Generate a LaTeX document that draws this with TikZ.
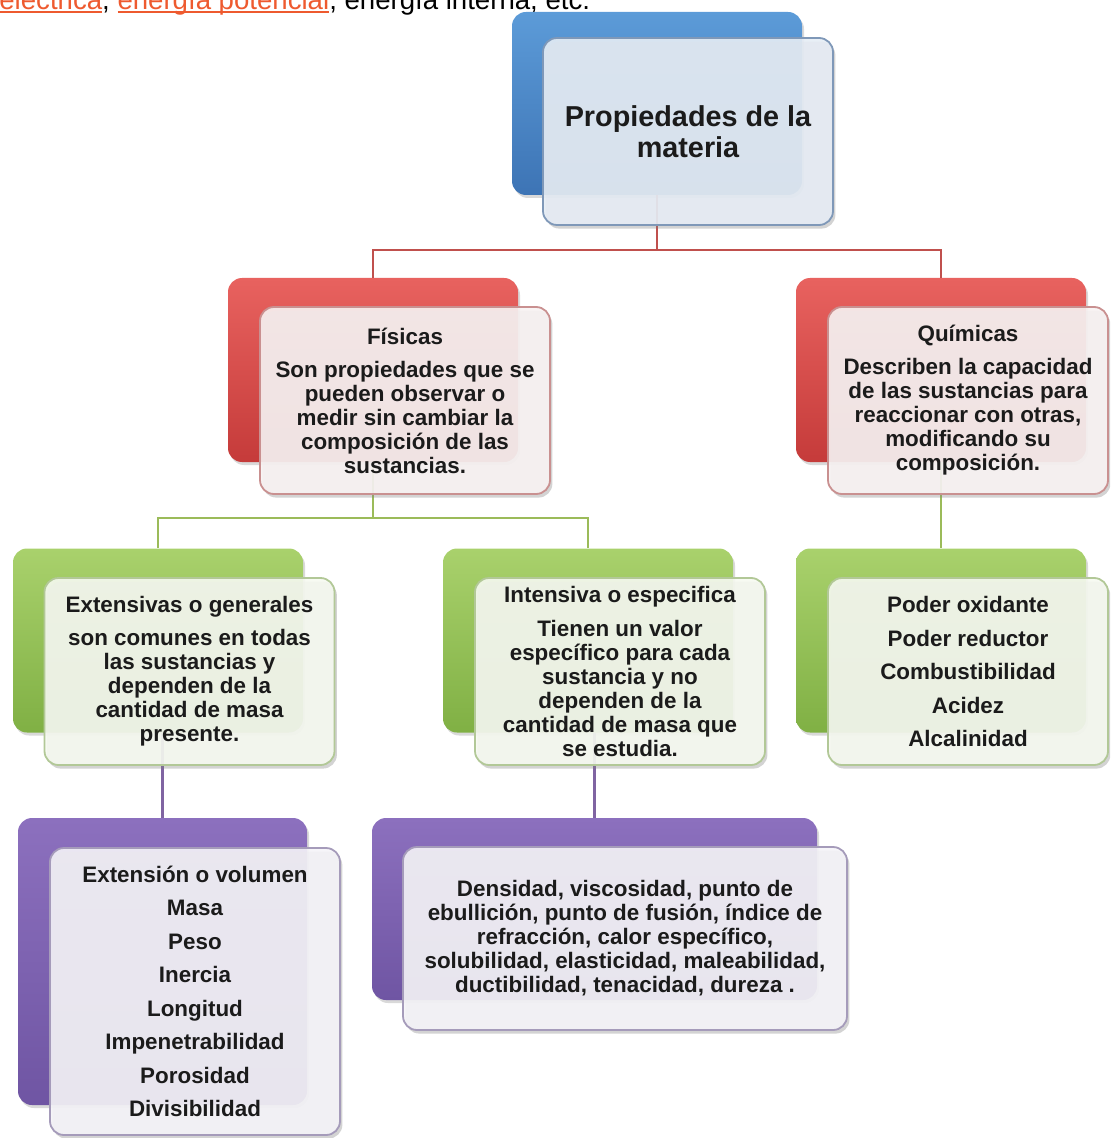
\documentclass[tikz,border=0pt]{standalone}
\usepackage{fontspec}
\setmainfont{Liberation Sans}
\usetikzlibrary{shadows}

\definecolor{blueTop}{HTML}{5C9BD8}
\definecolor{blueBot}{HTML}{3D74B5}
\definecolor{redTop}{HTML}{E8625F}
\definecolor{redBot}{HTML}{C53B3A}
\definecolor{greenTop}{HTML}{A9D16C}
\definecolor{greenBot}{HTML}{80B044}
\definecolor{purpleTop}{HTML}{8C70BE}
\definecolor{purpleBot}{HTML}{6F55A3}
\definecolor{blueFill}{HTML}{E6EDF5}
\definecolor{redFill}{HTML}{F8F3F3}
\definecolor{greenFill}{HTML}{F6F9F1}
\definecolor{purpleFill}{HTML}{F5F4F8}
\definecolor{blueEdge}{HTML}{7F98B8}
\definecolor{redEdge}{HTML}{C99090}
\definecolor{greenEdge}{HTML}{B2C897}
\definecolor{purpleEdge}{HTML}{A59BBA}
\definecolor{redLine}{HTML}{C0504D}
\definecolor{greenLine}{HTML}{9BBB59}
\definecolor{purpleLine}{HTML}{8064A2}
\definecolor{textcol}{HTML}{1B1B1B}
\definecolor{linkred}{HTML}{EE5A2F}

\newcommand\lnk[1]{\textcolor{linkred}{\setbox0=\hbox{#1}\rlap{\rule[-1.8pt]{\wd0}{1pt}}\box0}}

\tikzset{
  backbox/.style={rounded corners=7pt, minimum width=145pt, minimum height=92pt, inner sep=0pt,
    drop shadow={shadow xshift=1pt, shadow yshift=-1.5pt, opacity=0.3}},
  frontbox/.style={draw, line width=0.9pt, rounded corners=7pt, minimum width=145pt,
    minimum height=93.5pt, fill opacity=0.9, text opacity=1, align=center, inner sep=2pt,
    text=textcol, font=\bfseries\fontsize{11.2}{12}\selectfont,
    drop shadow={shadow xshift=1.2pt, shadow yshift=-1.8pt, opacity=0.35}},
  blueback/.style={backbox, top color=blueTop, bottom color=blueBot},
  redback/.style={backbox, top color=redTop, bottom color=redBot},
  greenback/.style={backbox, top color=greenTop, bottom color=greenBot},
  purpleback/.style={backbox, top color=purpleTop, bottom color=purpleBot},
  bluefront/.style={frontbox, draw=blueEdge, fill=blueFill},
  redfront/.style={frontbox, draw=redEdge, fill=redFill},
  greenfront/.style={frontbox, draw=greenEdge, fill=greenFill},
  purplefront/.style={frontbox, draw=purpleEdge, fill=purpleFill},
  titlefont/.style={font=\bfseries\fontsize{14.4}{15.5}\selectfont},
  listfont/.style={font=\bfseries\fontsize{11.2}{16.75}\selectfont},
  redline/.style={draw=redLine, line width=1.3pt},
  greenline/.style={draw=greenLine, line width=1.3pt},
  purpleline/.style={draw=purpleLine, line width=1.3pt}
}

\begin{document}
\begin{tikzpicture}[x=0.5pt, y=-0.5pt]
\useasboundingbox (0,0) rectangle (1110,1138);
\clip (0,0) rectangle (1110,1138);

% line of text cut off at the top
\node (intro) at (-1,9.5) [anchor=base west, inner sep=0pt, font=\fontsize{13.8}{14}\selectfont] {\lnk{eléctrica}, \lnk{energía potencial}, energía interna, etc.};

% back boxes
\node (TopB) at (657,103.5) [blueback, minimum height=91.5pt] {};
\node (FisB) at (373,370) [redback] {};
\node (QuiB) at (941,370) [redback] {};
\node (ExtB) at (158,640.5) [greenback] {};
\node (IntB) at (588,640.5) [greenback] {};
\node (QlB) at (941,640.5) [greenback] {};
\node (VolB) at (162.5,961.5) [purpleback, minimum width=144.5pt, minimum height=143.5pt] {};
\node (DenB) at (594.5,909) [purpleback, minimum width=222.5pt, minimum height=91pt] {};

% red connectors
\coordinate (redbus) at (657,250);
\draw[redline] (TopB.south) -- (redbus) -| (FisB.north);
\draw[redline] (redbus) -| (QuiB.north);

% green connectors
\coordinate (greenbus) at (373,518);
\draw[greenline] (FisB.south) -- (greenbus) -| (ExtB.north);
\draw[greenline] (greenbus) -| (IntB.north);
\draw[greenline] (QuiB.south) -- (QlB.north);

% purple connectors
\draw[purpleline] (VolB.north) -- (VolB.north |- ExtB.south);
\draw[purpleline] (DenB.north) -- (DenB.north |- IntB.south);

% front boxes
\node (Top) at (688,131.5) [bluefront, titlefont] {Propiedades de la\\materia};
\node (Fis) at (405,400.5) [redfront] {Físicas\\[4.5pt]Son propiedades que se\\pueden observar o\\medir sin cambiar la\\composición de las\\sustancias.};
\node (Qui) at (968,400.5) [redfront, minimum width=140pt] {Químicas\\[4.5pt]Describen la capacidad\\de las sustancias para\\reaccionar con otras,\\modificando su\\composición.};
\node (Ext) at (189.5,671.5) [greenfront] {Extensivas o generales\\[4.5pt]son comunes en todas\\las sustancias y\\dependen de la\\cantidad de masa\\presente.};
\node (Int) at (620,671.5) [greenfront] {Intensiva o especifica\\[5pt]Tienen un valor\\específico para cada\\sustancia y no\\dependen de la\\cantidad de masa que\\se estudia.};
\node (Ql) at (968,671.5) [greenfront, listfont, minimum width=140pt] {Poder oxidante\\Poder reductor\\Combustibilidad\\Acidez\\Alcalinidad};
\node (Vol) at (195,991.5) [purplefront, listfont, minimum height=143.5pt] {Extensión o volumen\\Masa\\Peso\\Inercia\\Longitud\\Impenetrabilidad\\Porosidad\\Divisibilidad};
\node (Den) at (625,938.5) [purplefront, minimum width=222pt, minimum height=91.5pt] {Densidad, viscosidad, punto de\\ebullición, punto de fusión, índice de\\refracción, calor específico,\\solubilidad, elasticidad, maleabilidad,\\ductibilidad, tenacidad, dureza .};

\end{tikzpicture}
\end{document}
